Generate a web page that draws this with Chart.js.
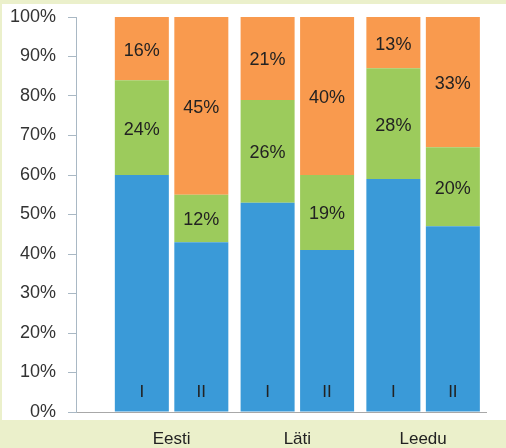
<!DOCTYPE html>
<html>
<head>
<meta charset="utf-8">
<script src="https://cdn.jsdelivr.net/npm/chart.js@4.4.1/dist/chart.umd.min.js"></script>
<style>
html,body{margin:0;padding:0;background:#ebf0cb;}
canvas{display:block;}
</style>
</head>
<body>
<canvas id="c" width="506" height="448"></canvas>
<script>
const countries = ['Eesti', 'Läti', 'Leedu'];
const periods = ['I', 'II'];
const yTicks = ['0%','10%','20%','30%','40%','50%','60%','70%','80%','90%','100%'];
// values per country, period I and period II
const blueI   = [60, 53, 59];
const greenI  = [24, 26, 28];
const orangeI = [16, 21, 13];
const blueII   = [43, 41, 47];
const greenII  = [12, 19, 20];
const orangeII = [45, 40, 33];

const BLUE = '#3a9ad8', GREEN = '#9ccb5c', ORANGE = '#f99a4e';
const FONT = '"Liberation Sans", Arial, sans-serif';

function pts(arr){ return arr.map((v,i)=>({x:i+1, y:v})); }

const datasets = [
  {label:'I-blue', data:pts(blueI), backgroundColor:BLUE, stack:'I', kind:'period', period:'I'},
  {label:'I-green', data:pts(greenI), backgroundColor:GREEN, stack:'I', kind:'value'},
  {label:'I-orange', data:pts(orangeI), backgroundColor:ORANGE, stack:'I', kind:'value'},
  {label:'II-blue', data:pts(blueII), backgroundColor:BLUE, stack:'II', kind:'period', period:'II'},
  {label:'II-green', data:pts(greenII), backgroundColor:GREEN, stack:'II', kind:'value'},
  {label:'II-orange', data:pts(orangeII), backgroundColor:ORANGE, stack:'II', kind:'value'}
].map(d=>Object.assign(d,{borderWidth:0, categoryPercentage:0.946, barPercentage:0.908}));

const bgPlugin = {
  id:'bg',
  beforeDraw(chart){
    const ctx = chart.ctx;
    ctx.save();
    ctx.fillStyle = '#ebf0cb';
    ctx.fillRect(0,0,chart.width,chart.height);
    ctx.fillStyle = '#ffffff';
    ctx.fillRect(2,4,chart.width-2,416);
    ctx.restore();
  }
};

const labelPlugin = {
  id:'labels',
  afterDatasetsDraw(chart){
    const ctx = chart.ctx;
    ctx.save();
    ctx.fillStyle = '#222222';
    ctx.textAlign = 'center';
    ctx.textBaseline = 'middle';
    chart.data.datasets.forEach((ds, di)=>{
      const meta = chart.getDatasetMeta(di);
      meta.data.forEach((el, i)=>{
        if (ds.kind === 'value') {
          ctx.font = '18px ' + FONT;
          ctx.fillText(ds.data[i].y + '%', el.x, (el.y + el.base)/2 + 2);
        } else {
          ctx.font = '17px ' + FONT;
          ctx.fillText(ds.period, el.x, el.base - 19);
        }
      });
    });
    ctx.restore();
  }
};

new Chart(document.getElementById('c'), {
  type:'bar',
  data:{datasets},
  plugins:[bgPlugin, labelPlugin],
  options:{
    responsive:false,
    animation:false,
    layout:{padding:{top:17, right:20, left:0, bottom:0}},
    plugins:{legend:{display:false}, tooltip:{enabled:false}},
    scales:{
      x:{
        type:'linear', offset:false, min:0.24, max:3.5,
        afterBuildTicks(s){ s.ticks = countries.map((c,i)=>({value:i+1})); },
        afterFit(s){ s.height = 36; s.paddingLeft = 0; s.paddingRight = 0; },
        grid:{display:false, drawTicks:false},
        border:{display:true, color:'#a8a8a8', width:1},
        ticks:{
          padding:17, color:'#222222', font:{family:FONT, size:17},
          maxRotation:0, autoSkip:false,
          callback(v){ return countries[v-1] || ''; }
        }
      },
      y:{
        stacked:true, min:0, max:100,
        afterBuildTicks(s){ s.ticks = yTicks.map((t,i)=>({value:i*10})); },
        afterFit(s){ s.width = 76; s.paddingTop = 0; s.paddingBottom = 0; },
        grid:{drawOnChartArea:false, drawTicks:true, tickLength:8, color:'#a9b8c4'},
        border:{display:true, color:'#a9b8c4', width:1},
        ticks:{
          padding:12, color:'#333333', font:{family:FONT, size:18},
          callback(v){ return yTicks[v/10]; }
        }
      }
    }
  }
});
</script>
</body>
</html>
